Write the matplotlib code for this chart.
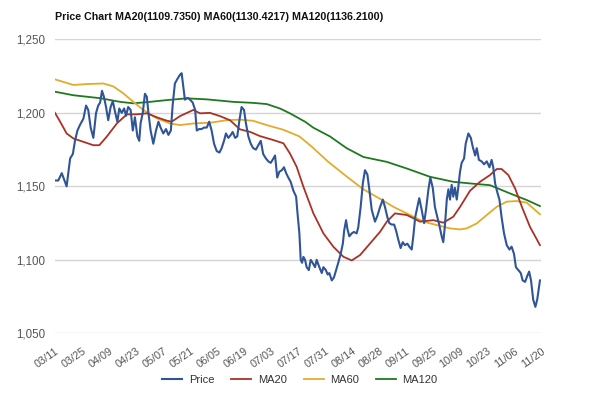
import matplotlib
matplotlib.use("Agg")
import matplotlib.pyplot as plt
from matplotlib.ticker import FuncFormatter

plt.rcParams['font.family'] = ['Liberation Sans', 'DejaVu Sans']

title = "Price Chart MA20(1109.7350) MA60(1130.4217) MA120(1136.2100)"
tick_labels = ["03/11", "03/25", "04/09", "04/23", "05/07", "05/21", "06/05", "06/19",
               "07/03", "07/17", "07/31", "08/14", "08/28", "09/11", "09/25", "10/09",
               "10/23", "11/06", "11/20"]
tick_days = [i * 10 for i in range(len(tick_labels))]

price_day = [0.0, 1.2, 2.5, 3.3, 4.3, 4.9, 5.6, 6.6, 7.4, 8.3, 9.3, 10.5, 11.5, 12.3, 13.2, 14.2,
             15.2, 16.0, 16.7, 17.4, 18.1, 18.9, 19.7, 20.6, 21.4, 22.2, 23.1, 23.8, 24.7, 25.6,
             26.3, 27.1, 28.0, 28.8, 29.6, 30.5, 31.2, 31.7, 32.5, 33.3, 34.0, 34.6, 35.4, 36.4,
             37.4, 38.3, 39.1, 40.1, 41.1, 42.0, 42.9, 43.6, 44.4, 45.3, 46.3, 46.9, 47.5, 48.1,
             48.8, 49.4, 50.0, 51.0, 51.9, 52.5, 53.4, 54.3, 55.2, 56.2, 57.1, 58.0, 58.9, 59.9,
             60.9, 61.7, 62.6, 63.3, 64.2, 65.1, 65.8, 66.7, 67.5, 68.3, 69.1, 70.0, 70.7, 71.6,
             72.5, 73.4, 74.4, 75.3, 76.2, 77.1, 78.1, 79.0, 79.9, 80.9, 81.5, 82.3, 83.1, 84.0,
             84.8, 85.6, 86.4, 87.3, 88.3, 89.3, 89.7, 90.5, 91.0, 91.5, 92.0, 92.6, 93.2, 94.0,
             94.7, 95.4, 96.3, 96.9, 97.9, 98.8, 99.4, 100.3, 101.0, 101.6, 102.5, 103.3, 104.1,
             104.9, 105.8, 106.6, 107.1, 107.8, 108.3, 109.0, 109.9, 110.7, 111.7, 112.3, 113.2,
             114.0, 114.8, 115.7, 116.4, 117.3, 118.5, 119.4, 120.4, 121.4, 122.2, 123.1, 123.8,
             124.7, 125.6, 126.3, 127.1, 128.0, 128.8, 129.6, 130.5, 131.2, 132.1, 132.7, 133.4,
             134.2, 134.9, 135.8, 136.7, 137.4, 138.3, 139.0, 139.9, 140.7, 141.6, 142.3, 143.2,
             143.8, 144.4, 145.1, 145.7, 146.3, 146.9, 147.5, 148.1, 148.8, 149.4, 150.0, 150.6,
             151.5, 152.1, 153.1, 154.0, 154.7, 155.6, 156.2, 157.0, 158.0, 158.9, 159.9, 160.9,
             161.7, 162.3, 163.0, 163.8, 164.6, 165.4, 166.3, 167.3, 168.3, 169.1, 170.0, 170.7,
             171.6, 172.5, 173.2, 174.1, 174.9, 175.6, 176.3, 177.1, 177.9, 178.6, 179.6]
price_val = [1154, 1154, 1159, 1155, 1150, 1159, 1169, 1172, 1181, 1188, 1192, 1196, 1205, 1202,
             1190, 1183, 1200, 1205, 1207, 1215, 1211, 1204, 1195, 1204, 1208, 1201, 1194, 1203,
             1200, 1203, 1198, 1204, 1202, 1188, 1197, 1184, 1181, 1193, 1200, 1213, 1211, 1200,
             1188, 1179, 1188, 1194, 1190, 1186, 1189, 1185, 1188, 1206, 1220, 1223, 1226, 1227,
             1218, 1209, 1210, 1210, 1209, 1207, 1202, 1188, 1189, 1189, 1190, 1190, 1194, 1188,
             1179, 1174, 1173, 1176, 1181, 1186, 1183, 1185, 1187, 1183, 1184, 1195, 1204, 1202,
             1193, 1184, 1179, 1176, 1175, 1178, 1181, 1172, 1169, 1167, 1166, 1169, 1171, 1156,
             1160, 1161, 1163, 1159, 1156, 1153, 1147, 1143, 1134, 1118, 1100, 1098, 1102, 1100,
             1095, 1093, 1100, 1098, 1095, 1100, 1095, 1091, 1095, 1093, 1090, 1091, 1086, 1088,
             1093, 1098, 1104, 1111, 1120, 1127, 1121, 1116, 1118, 1119, 1118, 1122, 1136, 1152,
             1161, 1158, 1148, 1134, 1126, 1130, 1136, 1141, 1136, 1129, 1125, 1124, 1124, 1120,
             1114, 1108, 1112, 1110, 1111, 1109, 1107, 1116, 1129, 1136, 1142, 1134, 1125, 1134,
             1148, 1156, 1149, 1136, 1129, 1124, 1116, 1112, 1123, 1141, 1148, 1141, 1151, 1143,
             1149, 1141, 1150, 1160, 1166, 1169, 1179, 1186, 1183, 1177, 1171, 1176, 1168, 1167,
             1165, 1167, 1163, 1168, 1163, 1152, 1146, 1141, 1129, 1118, 1110, 1107, 1109, 1104,
             1095, 1093, 1091, 1086, 1085, 1089, 1092, 1086, 1073, 1068, 1073, 1086]

ma20_day = [0.0, 1.9, 4.3, 6.8, 10.5, 14.2, 16.4, 19.1, 22.9, 26.6, 30.3, 34.0, 37.7, 41.4,
            43.2, 46.3, 51.2, 53.7, 57.4, 61.1, 64.8, 68.5, 72.2, 75.9, 80.9, 84.6, 87.0, 89.5,
            92.0, 95.7, 99.4, 103.1, 106.8, 109.9, 113.0, 116.7, 120.4, 122.9, 125.9, 130.3,
            135.2, 140.1, 143.8, 147.5, 150.0, 153.7, 157.4, 161.1, 163.6, 165.4, 167.9, 170.4,
            172.9, 175.9, 179.6]
ma20_val = [1200, 1194, 1186, 1182.6, 1180.3, 1178, 1178, 1183.7, 1192.8, 1199, 1199, 1199.7,
            1197, 1194.7, 1194, 1197.8, 1202, 1199.7, 1200, 1197.8, 1195, 1188.8, 1187.1, 1184.2,
            1181.5, 1179.3, 1172.4, 1163.3, 1149.7, 1131.6, 1118, 1108.9, 1102.1, 1099.6, 1103.3,
            1111.2, 1119.1, 1126, 1131.6, 1130.5, 1126, 1127, 1125.3, 1129.3, 1136, 1147, 1153.1,
            1157.7, 1161.8, 1161.8, 1157.7, 1148.6, 1136.1, 1122.5, 1110]

ma60_day = [0.0, 6.8, 11.7, 17.9, 21.6, 25.3, 29.0, 32.7, 37.7, 42.6, 46.3, 51.2, 57.4, 63.6,
            68.5, 73.4, 78.4, 84.6, 90.5, 95.1, 101.0, 107.8, 114.2, 120.4, 125.4, 131.5, 136.4,
            141.3, 146.3, 149.9, 152.5, 156.2, 159.9, 163.6, 167.3, 171.0, 174.7, 179.6]
ma60_val = [1222.8, 1219, 1219.6, 1220, 1218, 1213.3, 1207.5, 1202, 1196.3, 1192.8, 1191.7,
            1192.8, 1193.3, 1195, 1195.4, 1194.6, 1191.7, 1188.5, 1184, 1177, 1167, 1157, 1148,
            1141.5, 1136, 1130.5, 1126, 1123.7, 1121.4, 1120.7, 1121.4, 1124.8, 1130.5, 1136.1,
            1139.6, 1140, 1138.9, 1131]

ma120_day = [0.0, 6.8, 16.7, 24.1, 29.0, 35.2, 41.4, 48.8, 56.2, 66.0, 73.4, 78.4, 83.3, 87.0,
             92.6, 95.6, 101.8, 108.0, 114.2, 122.8, 130.2, 138.9, 147.5, 153.7, 161.1, 168.5,
             174.7, 179.6]
ma120_val = [1214.4, 1212, 1210, 1207.5, 1206.5, 1207.5, 1208.7, 1209.9, 1209.2, 1207.5, 1206.8,
             1206, 1203, 1199.7, 1194, 1190, 1184, 1176, 1170, 1166.7, 1162.2, 1156.5, 1153.1,
             1152, 1150.8, 1145.2, 1140.7, 1136.6]

colors = {"Price": "#2f5597", "MA20": "#a93226", "MA60": "#e2ac2a", "MA120": "#1f7a1f"}

fig = plt.figure(figsize=(6.0, 3.94), dpi=100)
ax = fig.add_axes([0.0917, 0.154, 0.81, 0.746])

ax.plot(price_day, price_val, color=colors["Price"], lw=1.5, label="Price", zorder=5)
ax.plot(ma20_day, ma20_val, color=colors["MA20"], lw=1.3, label="MA20", zorder=4)
ax.plot(ma60_day, ma60_val, color=colors["MA60"], lw=1.3, label="MA60", zorder=3)
ax.plot(ma120_day, ma120_val, color=colors["MA120"], lw=1.3, label="MA120", zorder=2)

ax.set_xlim(0, 180)
ax.set_ylim(1050, 1250)
ax.set_yticks([1050, 1100, 1150, 1200, 1250])
ax.yaxis.set_major_formatter(FuncFormatter(lambda v, p: f"{int(v):,}"))
ax.set_xticks(tick_days)
ax.set_xticklabels(tick_labels, rotation=35, ha='right', va='top', rotation_mode='anchor')
ax.tick_params(axis='both', length=0, colors='#555555')
ax.tick_params(axis='x', pad=9, labelsize=7.8)
ax.tick_params(axis='y', pad=7, labelsize=8.3)
ax.grid(axis='y', color='#d4d4d4', lw=1)
ax.set_axisbelow(True)
for s in ax.spines.values():
    s.set_visible(False)

fig.text(0.092, 0.957, title, fontsize=7.7, fontweight='bold', ha='left', va='center', color='#111111')

leg = fig.legend(loc='center', bbox_to_anchor=(0.5, 0.035), ncol=4, frameon=False,
                 fontsize=8, handlelength=1.8, columnspacing=1.5, handletextpad=0.6)
for t in leg.get_texts():
    t.set_color('#333333')

fig.savefig("out.png", dpi=100)
